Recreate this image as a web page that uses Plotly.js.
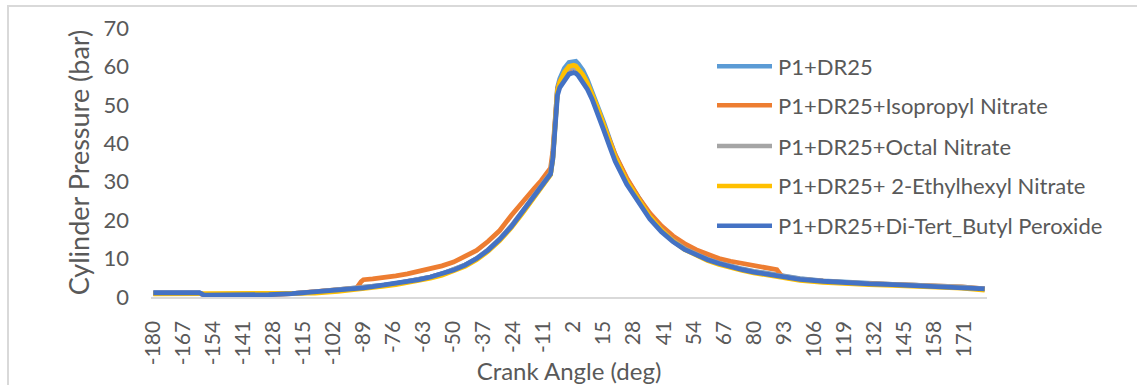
<!DOCTYPE html>
<html>
<head>
<meta charset="utf-8">
<script src="https://cdn.plot.ly/plotly-3.0.1.min.js"></script>
<style>
  html, body { margin: 0; padding: 0; background: #ffffff; overflow: hidden; }
  #frame { position: absolute; left: 7px; top: 5px; width: 1140px; height: 400px; border: 2px solid #d9d9d9; box-sizing: border-box; }
  #chart { position: absolute; left: 0; top: 0; width: 1137px; height: 385px; }
</style>
</head>
<body>
<div id="frame"></div>
<div id="chart"></div>
<script>
// Crank angle (deg)
const angles = [-180,-170,-160,-158,-150,-140,-130,-120,-110,-100,
  -92,-90,-89,-85,-80,-75,-70,-65,-60,-55,
  -50,-45,-40,-35,-30,-25,-20,-15,-12,-10,
  -8,-7,-6,-5,-4,-2,0,2,3,4,
  6,8,10,12,15,18,20,25,30,35,
  40,45,50,55,60,65,70,75,80,85,
  88,90,92,95,100,110,120,130,140,150,
  160,170,180];

const seriesNames = ["P1+DR25", "P1+DR25+Isopropyl Nitrate", "P1+DR25+Octal Nitrate",
  "P1+DR25+ 2-Ethylhexyl Nitrate", "P1+DR25+Di-Tert_Butyl Peroxide"];

const p1dr25 = [1.0,1.0,1.0,0.6,0.6,0.6,0.7,0.9,1.3,1.8,
  2.2,2.3,2.4,2.7,3.1,3.5,4.0,4.5,5.2,6.0,
  7.0,8.3,10.0,12.2,15.0,18.3,22.2,26.2,28.6,30.3,
  32.0,36.5,47.5,54.5,56.8,59.5,61.0,61.4,61.3,60.7,
  59.0,56.5,53.5,50.5,45.5,40.3,37.0,30.7,25.7,21.3,
  17.8,15.0,12.8,11.2,9.9,8.9,8.0,7.3,6.7,6.2,
  5.9,5.7,5.5,5.2,4.8,4.2,3.8,3.5,3.3,3.1,
  2.8,2.6,2.1];

const isopropyl = [1.0,1.0,1.0,0.5,0.5,0.5,0.6,0.9,1.4,1.9,
  2.3,4.0,4.5,4.7,5.0,5.5,6.0,6.6,7.3,8.1,
  9.1,10.5,12.1,14.5,17.3,21.2,25.0,28.3,30.3,31.8,
  33.5,38.0,48.0,54.0,56.0,58.0,59.3,59.7,59.5,58.9,
  57.3,55.2,52.5,49.5,44.8,40.0,37.0,31.0,26.0,21.8,
  18.5,15.9,13.9,12.3,11.0,10.0,9.3,8.7,8.2,7.7,
  7.4,7.1,5.5,5.0,4.6,4.1,3.7,3.5,3.3,3.1,
  2.8,2.6,2.1];

const octal = [1.0,1.0,1.0,0.6,0.6,0.6,0.7,0.9,1.3,1.8,
  2.2,2.3,2.4,2.7,3.1,3.5,4.0,4.5,5.2,6.0,
  7.0,8.3,10.0,12.3,15.1,18.5,22.4,26.4,28.8,30.5,
  32.2,36.5,47.0,53.5,55.5,58.0,59.5,59.8,59.6,59.0,
  57.3,55.2,52.5,49.5,44.5,39.5,36.2,30.0,25.2,20.8,
  17.4,14.7,12.6,11.1,9.8,8.8,7.9,7.2,6.6,6.1,
  5.8,5.6,5.4,5.1,4.7,4.1,3.7,3.5,3.3,3.1,
  2.8,2.6,2.1];

const ethylhexyl = [0.8,0.8,0.8,1.0,1.0,1.0,1.0,0.7,1.0,1.5,
  1.9,2.0,2.1,2.4,2.8,3.2,3.7,4.2,4.9,5.7,
  6.7,8.0,9.7,11.9,14.7,18.0,21.9,25.9,28.3,30.0,
  31.8,36.0,46.5,53.5,55.8,58.5,60.0,60.3,60.1,59.4,
  57.8,55.6,52.8,49.8,44.8,39.8,36.4,30.2,25.3,20.9,
  17.4,14.6,12.4,10.8,9.5,8.5,7.6,6.9,6.3,5.8,
  5.4,5.2,5.0,4.7,4.3,3.8,3.4,3.2,3.0,2.8,
  2.5,2.3,1.8];

const dtbp = [1.1,1.1,1.1,0.5,0.5,0.5,0.6,0.9,1.3,1.8,
  2.2,2.3,2.4,2.7,3.1,3.5,4.0,4.5,5.2,6.0,
  7.0,8.3,10.0,12.2,15.0,18.3,22.2,26.2,28.6,30.3,
  32.0,36.0,46.0,52.5,54.5,56.5,58.0,58.4,58.2,57.6,
  56.0,54.0,51.5,48.5,43.5,38.5,35.3,29.3,24.6,20.3,
  17.0,14.4,12.4,10.9,9.7,8.7,7.8,7.1,6.5,6.0,
  5.7,5.5,5.3,5.0,4.6,4.1,3.6,3.4,3.2,3.0,
  2.8,2.6,2.1];

const xTickLabels = [-180,-167,-154,-141,-128,-115,-102,-89,-76,-63,-50,-37,-24,-11,
  2,15,28,41,54,67,80,93,106,119,132,145,158,171];
const yTickLabels = [0,10,20,30,40,50,60,70];

const colors = ["#5B9BD5", "#ED7D31", "#A5A5A5", "#FFC000", "#4472C4"];
const seriesValues = [p1dr25, isopropyl, octal, ethylhexyl, dtbp];

const FONT = "Lato, 'Open Sans', sans-serif";
const TXT = "#595959";

// plot area in px
const W = 1137, H = 385;
const L = 151, R = 987, T = 27.5, B = 297.5;
const pw = R - L, ph = B - T;

const traces = seriesValues.map((vals, i) => ({
  x: angles, y: vals, type: "scatter", mode: "lines", name: seriesNames[i],
  line: { color: colors[i], width: 4.8 }, showlegend: false, hoverinfo: "skip"
}));

// custom legend
const legRowsPx = [66, 105, 146, 186, 226];
const legX0 = 717, legX1 = 772, legTextX = 776;
const shapes = [];
const annotations = [];
seriesNames.forEach((nm, i) => {
  const yp = (B - legRowsPx[i]) / ph;
  shapes.push({ type: "line", xref: "paper", yref: "paper",
    x0: (legX0 - L) / pw, x1: (legX1 - L) / pw, y0: yp, y1: yp,
    line: { color: colors[i], width: 4.5 } });
  annotations.push({ xref: "paper", yref: "paper", x: (legTextX - L) / pw, y: yp,
    xanchor: "left", yanchor: "middle", showarrow: false, text: nm,
    font: { family: FONT, size: 22, color: TXT } });
});

const layout = {
  width: W, height: H,
  margin: { l: L, r: W - R, t: T, b: H - B, pad: 0 },
  paper_bgcolor: "rgba(0,0,0,0)", plot_bgcolor: "rgba(0,0,0,0)",
  showlegend: false,
  xaxis: {
    range: [-181, 181], tickvals: xTickLabels, ticktext: xTickLabels.map(String),
    tickangle: -90, showgrid: false, zeroline: false, showline: true,
    linecolor: "#d9d9d9", linewidth: 1.5, ticks: "", ticklabelstandoff: 14,
    tickfont: { family: FONT, size: 21, color: TXT },
    title: { text: "Crank Angle (deg)", font: { family: FONT, size: 24, color: TXT }, standoff: 0 }
  },
  yaxis: {
    range: [0, 70], tickvals: yTickLabels, ticktext: yTickLabels.map(String),
    showgrid: false, zeroline: false, showline: false, ticks: "",
    ticklabelstandoff: 21,
    tickfont: { family: FONT, size: 22, color: TXT },
    title: { text: "Cylinder Pressure (bar)", font: { family: FONT, size: 27, color: TXT }, standoff: 6 }
  },
  shapes: shapes,
  annotations: annotations
};

Plotly.newPlot("chart", traces, layout, { displayModeBar: false, staticPlot: true });
</script>
</body>
</html>
